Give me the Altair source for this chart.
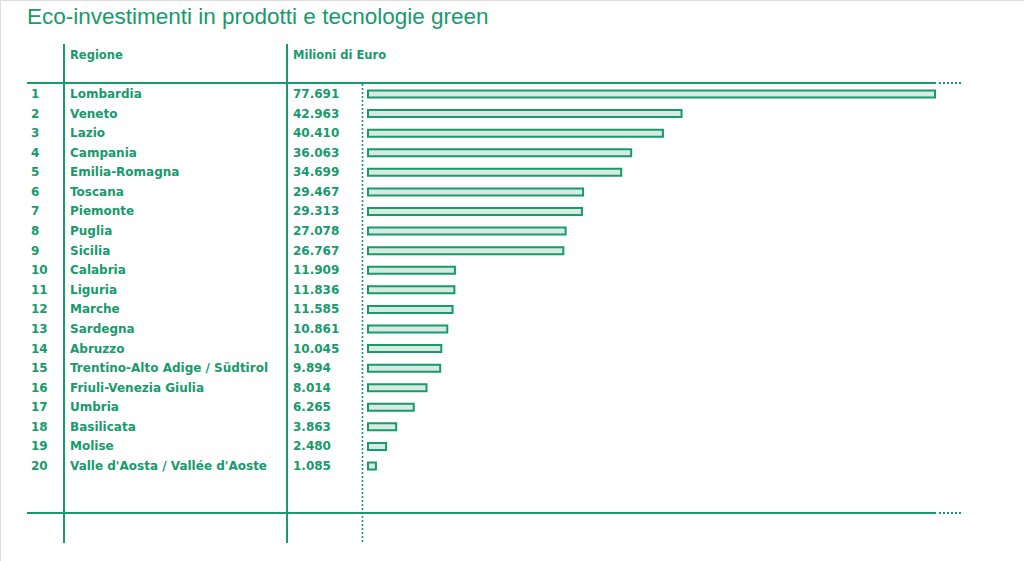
import altair as alt
import pandas as pd

GREEN = "#179a6c"
HATCH = "#d6eae2"
FONT = "DejaVu Sans"

title_text = "Eco-investimenti in prodotti e tecnologie green"
header_region = "Regione"
header_value = "Milioni di Euro"

ranks = list(range(1, 21))
regions = [
    "Lombardia", "Veneto", "Lazio", "Campania", "Emilia-Romagna", "Toscana",
    "Piemonte", "Puglia", "Sicilia", "Calabria", "Liguria", "Marche",
    "Sardegna", "Abruzzo", "Trentino-Alto Adige / Südtirol",
    "Friuli-Venezia Giulia", "Umbria", "Basilicata", "Molise",
    "Valle d'Aosta / Vallée d'Aoste",
]
values = [77691, 42963, 40410, 36063, 34699, 29467, 29313, 27078, 26767,
          11909, 11836, 11585, 10861, 10045, 9894, 8014, 6265, 3863, 2480, 1085]

df = pd.DataFrame({"rank": ranks, "regione": regions, "valore": values})
one = pd.DataFrame({"k": [0]})

W, H = 1024, 561
yscale = alt.Scale(domain=[-3.80, 24.85], range=[0, H], zero=False, nice=False, padding=0)
xscale = alt.Scale(domain=[-50424, 89886], range=[0, W], zero=False, nice=False, padding=0)
Y = alt.Y("rank:Q", scale=yscale, axis=None)

base = alt.Chart(df)

bars = base.mark_bar(size=7, orient="horizontal", fill=HATCH, stroke=GREEN,
                     strokeWidth=2).encode(
    x=alt.X("valore:Q", scale=xscale, axis=None),
    x2=alt.datum(0),
    y=Y,
)

txt = dict(font=FONT, fontSize=12, fontWeight="bold", color=GREEN,
           align="left", baseline="middle")
rank_t = base.mark_text(**txt).encode(x=alt.value(31), y=Y, text="rank:Q")
reg_t = base.mark_text(**txt).encode(x=alt.value(70), y=Y, text="regione:N")
val_t = base.mark_text(**txt).encode(x=alt.value(293), y=Y,
                                     text=alt.Text("valore:Q", format=",d"))

hdr = dict(font=FONT, fontSize=11.5, fontWeight="bold", color=GREEN,
           align="left", baseline="middle")
h1 = alt.Chart(one).mark_text(text=header_region, **hdr).encode(x=alt.value(70), y=alt.value(56))
h2 = alt.Chart(one).mark_text(text=header_value, **hdr).encode(x=alt.value(293), y=alt.value(56))

title = alt.Chart(one).mark_text(text=title_text, font="Liberation Sans", fontSize=22.5,
                                 color=GREEN, align="left", baseline="alphabetic").encode(
    x=alt.value(27), y=alt.value(24))


def rule(x, x2, y, y2, dash=None, width=2):
    kw = dict(color=GREEN, strokeWidth=width)
    if dash:
        kw["strokeDash"] = dash
    return alt.Chart(one).mark_rule(**kw).encode(
        x=alt.value(x), x2=alt.value(x2), y=alt.value(y), y2=alt.value(y2))


rules = [
    rule(64, 64, 44, 543),
    rule(287, 287, 44, 543),
    rule(27, 936, 83, 83),
    rule(27, 936, 513, 513),
    rule(939, 962, 83, 83, dash=[2, 2]),
    rule(939, 962, 513, 513, dash=[2, 2]),
    rule(362.5, 362.5, 84, 543, dash=[2, 2], width=1.6),
]

chart = alt.layer(*rules, bars, rank_t, reg_t, val_t, h1, h2, title).properties(
    width=W, height=H, padding=0, autosize=alt.AutoSizeParams(type="none")
).configure_view(stroke=None).configure(
    locale={"number": {"decimal": ",", "thousands": ".", "grouping": [3],
                       "currency": ["€", ""]}}
)

chart.save("out.html", embed_options={"renderer": "svg", "actions": False})
